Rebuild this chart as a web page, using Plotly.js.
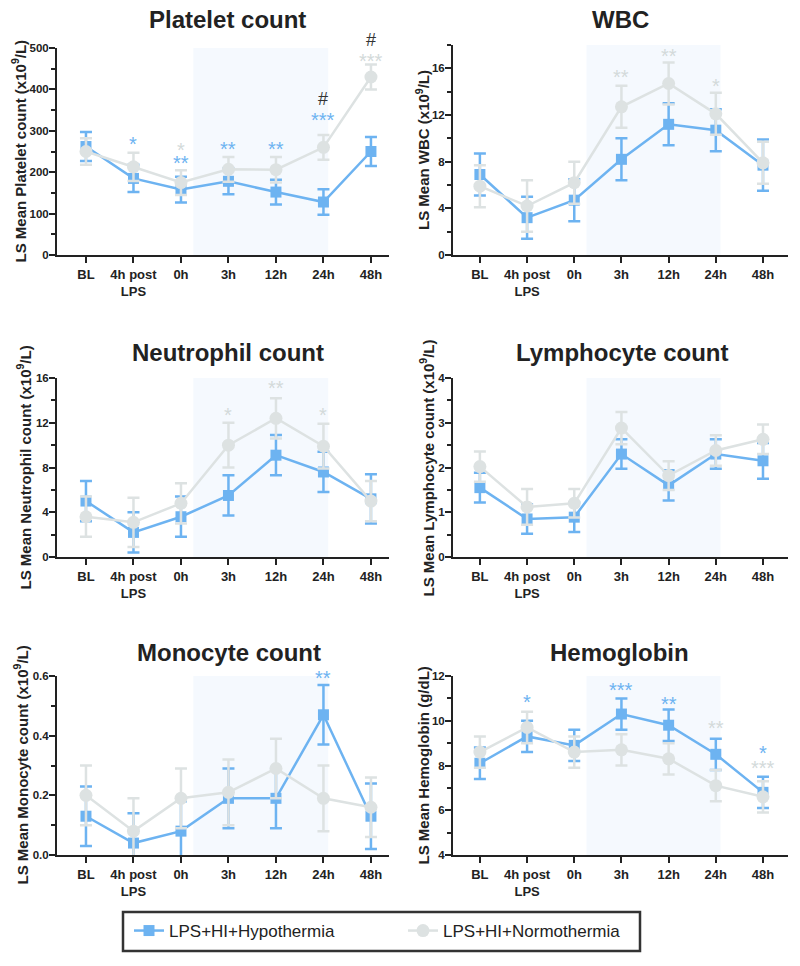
<!DOCTYPE html>
<html>
<head>
<meta charset="utf-8">
<script src="https://cdn.plot.ly/plotly-3.0.1.min.js"></script>
<style>
  html, body { margin: 0; padding: 0; background: #fff; }
  #graph { width: 800px; height: 966px; }
</style>
</head>
<body>
<div id="graph"></div>
<script>
// time points along every x axis
var timepoints = ['BL', '4h post<br>LPS', '0h', '3h', '12h', '24h', '48h'];
var timeIdx = [0, 1, 2, 3, 4, 5, 6];

// platelet count (x10^9/L), LS mean and error
var plateletHypo = [262, 185, 158, 178, 152, 128, 250];
var plateletHypoErr = [35, 33, 31, 31, 30, 31, 35];
var plateletNormo = [250, 213, 175, 207, 206, 260, 430];
var plateletNormoErr = [32, 34, 30, 30, 31, 30, 30];

// WBC (x10^9/L)
var wbcHypo = [6.9, 3.2, 4.7, 8.2, 11.2, 10.7, 7.7];
var wbcHypoErr = [1.8, 1.8, 1.8, 1.8, 1.8, 1.8, 2.2];
var wbcNormo = [5.9, 4.2, 6.2, 12.7, 14.7, 12.1, 7.9];
var wbcNormoErr = [1.8, 2.2, 1.8, 1.8, 1.8, 1.8, 1.8];

// neutrophil count (x10^9/L)
var neutroHypo = [5.0, 2.2, 3.6, 5.5, 9.1, 7.6, 5.2];
var neutroHypoErr = [1.8, 1.8, 1.8, 1.8, 1.8, 1.8, 2.2];
var neutroNormo = [3.6, 3.1, 4.8, 10.0, 12.4, 9.9, 5.0];
var neutroNormoErr = [1.8, 2.2, 1.8, 2.0, 1.8, 2.0, 1.8];

// lymphocyte count (x10^9/L)
var lymphoHypo = [1.55, 0.85, 0.89, 2.3, 1.6, 2.3, 2.15];
var lymphoHypoErr = [0.33, 0.33, 0.33, 0.33, 0.34, 0.33, 0.4];
var lymphoNormo = [2.02, 1.12, 1.2, 2.88, 1.82, 2.38, 2.63];
var lymphoNormoErr = [0.34, 0.4, 0.32, 0.36, 0.32, 0.34, 0.33];

// monocyte count (x10^9/L)
var monoHypo = [0.13, 0.04, 0.08, 0.19, 0.19, 0.47, 0.13];
var monoHypoErr = [0.1, 0.1, 0.1, 0.1, 0.1, 0.1, 0.11];
var monoNormo = [0.2, 0.08, 0.19, 0.21, 0.29, 0.19, 0.16];
var monoNormoErr = [0.1, 0.11, 0.1, 0.11, 0.1, 0.11, 0.1];

// hemoglobin (g/dL)
var hbHypo = [8.1, 9.3, 8.9, 10.3, 9.8, 8.5, 6.8];
var hbHypoErr = [0.7, 0.7, 0.7, 0.7, 0.7, 0.7, 0.7];
var hbNormo = [8.6, 9.7, 8.6, 8.7, 8.3, 7.1, 6.6];
var hbNormoErr = [0.7, 0.7, 0.7, 0.7, 0.7, 0.7, 0.7];

// significance labels: [time index, label, group, height in axis units]
var plateletSig = [[1, '*', 'hypo', 282], [2, '*', 'normo', 268], [2, '**', 'hypo', 237],
  [3, '**', 'hypo', 271], [4, '**', 'hypo', 271], [5, '***', 'hypo', 340], [5, '#', 'diff', 380],
  [6, '***', 'normo', 483], [6, '#', 'diff', 521]];
var wbcSig = [[3, '**', 'normo', 15.8], [4, '**', 'normo', 17.55], [5, '*', 'normo', 15.0]];
var neutroSig = [[3, '*', 'normo', 13.26], [4, '**', 'normo', 15.64], [5, '*', 'normo', 13.26]];
var lymphoSig = [];
var monoSig = [[5, '**', 'hypo', 0.614]];
var hbSig = [[1, '*', 'hypo', 11.1], [3, '***', 'hypo', 11.63], [4, '**', 'hypo', 11.0],
  [5, '**', 'normo', 9.96], [6, '*', 'hypo', 8.84], [6, '***', 'normo', 8.17]];

var BLUE = '#6db3f1';
var GREY = '#dde2e2';
var INK = '#222222';
var SHADE = '#f5f9fe';
var FONT = 'Liberation Sans, Arial, Helvetica, sans-serif';
var W = 800, H = 966;

// box = plot area in px [left, right, top, bottom]; ytx = y title centre, tty/ttx = panel title centre
var panels = [
  { title: 'Platelet count', ytitle: 'LS Mean Platelet count (x10<sup>9</sup>/L)',
    hypo: plateletHypo, hypoErr: plateletHypoErr, normo: plateletNormo, normoErr: plateletNormoErr,
    range: [0, 500], dtick: 100, minor: 50, sig: plateletSig,
    box: [57, 389, 48, 255], ytx: 19, tty: 20, ttx: 228 },
  { title: 'WBC', ytitle: 'LS Mean WBC (x10<sup>9</sup>/L)',
    hypo: wbcHypo, hypoErr: wbcHypoErr, normo: wbcNormo, normoErr: wbcNormoErr,
    range: [0, 18], dtick: 4, minor: 2, sig: wbcSig,
    box: [453, 788, 45, 255], ytx: 423, tty: 20, ttx: 620 },
  { title: 'Neutrophil count', ytitle: 'LS Mean Neutrophil count (x10<sup>9</sup>/L)',
    hypo: neutroHypo, hypoErr: neutroHypoErr, normo: neutroNormo, normoErr: neutroNormoErr,
    range: [0, 16], dtick: 4, minor: 2, sig: neutroSig,
    box: [57, 389, 378, 557], ytx: 24, tty: 352, ttx: 228 },
  { title: 'Lymphocyte count', ytitle: 'LS Mean Lymphocyte count (x10<sup>9</sup>/L)',
    hypo: lymphoHypo, hypoErr: lymphoHypoErr, normo: lymphoNormo, normoErr: lymphoNormoErr,
    range: [0, 4], dtick: 1, minor: 0.5, sig: lymphoSig,
    box: [453, 788, 378, 557], ytx: 427, tty: 352, ttx: 622 },
  { title: 'Monocyte count', ytitle: 'LS Mean Monocyte count (x10<sup>9</sup>/L)',
    hypo: monoHypo, hypoErr: monoHypoErr, normo: monoNormo, normoErr: monoNormoErr,
    range: [0, 0.6], dtick: 0.2, minor: 0.1, fmt: '.1f', sig: monoSig,
    box: [57, 389, 676, 855], ytx: 21, tty: 652, ttx: 229 },
  { title: 'Hemoglobin', ytitle: 'LS Mean Hemoglobin (g/dL)',
    hypo: hbHypo, hypoErr: hbHypoErr, normo: hbNormo, normoErr: hbNormoErr,
    range: [4, 12], dtick: 2, minor: 1, sig: hbSig,
    box: [453, 788, 676, 855], ytx: 423, tty: 652, ttx: 619 }
];

var data = [], annotations = [], shapes = [];
var legendBase = {
  orientation: 'h', y: 1 - 913 / H, xanchor: 'left', yanchor: 'top',
  bgcolor: 'rgba(0,0,0,0)', borderwidth: 0,
  font: { family: FONT, size: 17, color: INK }, itemclick: false
};
var layout = {
  width: W, height: H,
  margin: { l: 0, r: 0, t: 0, b: 0 },
  paper_bgcolor: '#ffffff',
  plot_bgcolor: 'rgba(0,0,0,0)',
  font: { family: FONT, color: INK },
  showlegend: true,
  legend: Object.assign({ x: 129 / W }, legendBase),
  legend2: Object.assign({ x: 403 / W }, legendBase),
  hovermode: false
};

// frame around the legend
shapes.push({
  type: 'rect', xref: 'paper', yref: 'paper',
  x0: 123 / W, x1: 640 / W, y0: 1 - 951 / H, y1: 1 - 912 / H,
  line: { color: '#333333', width: 2.5 }, fillcolor: 'rgba(0,0,0,0)'
});

panels.forEach(function (p, i) {
  var n = i === 0 ? '' : String(i + 1);
  var xa = 'x' + n, ya = 'y' + n;
  var b = p.box;
  var isRight = b[0] > W / 2;
  var yDom = [1 - b[3] / H, 1 - b[2] / H];

  layout['xaxis' + n] = {
    domain: [b[0] / W, b[1] / W], anchor: ya,
    range: isRight ? [-0.57, 6.53] : [-0.61, 6.38],
    tickmode: 'array', tickvals: timeIdx, ticktext: timepoints,
    showline: true, linecolor: INK, linewidth: 2,
    ticks: 'outside', ticklen: 6, tickwidth: 2, tickcolor: INK,
    showgrid: false, zeroline: false, fixedrange: true,
    tickfont: { family: FONT, size: 13, color: INK, weight: 'bold' }
  };
  layout['yaxis' + n] = {
    domain: yDom, anchor: xa, range: p.range,
    tick0: p.range[0], dtick: p.dtick, tickformat: p.fmt || '',
    showline: true, linecolor: INK, linewidth: 2,
    ticks: 'outside', ticklen: 6, tickwidth: 2, tickcolor: INK,
    ticklabelstandoff: -2,
    minor: { dtick: p.minor, tick0: p.range[0], ticks: 'outside', ticklen: 4, tickwidth: 2, tickcolor: INK, showgrid: false },
    showgrid: false, zeroline: false, fixedrange: true,
    tickfont: { family: FONT, size: 11.5, color: INK, weight: 'bold' }
  };

  // shaded hypothermia window
  shapes.push({
    type: 'rect', xref: xa, yref: ya + ' domain', x0: 2.26, x1: 5.1, y0: 0, y1: 1,
    fillcolor: SHADE, line: { width: 0 }, layer: 'below'
  });

  data.push({
    x: timeIdx, y: p.hypo, xaxis: xa, yaxis: ya, type: 'scatter', mode: 'lines+markers',
    name: 'LPS+HI+Hypothermia', legend: 'legend', showlegend: i === 0,
    line: { color: BLUE, width: 2.5 },
    marker: { symbol: 'square', size: 11, color: BLUE },
    error_y: { type: 'data', array: p.hypoErr, visible: true, color: BLUE, thickness: 2.5, width: 6 }
  });
  data.push({
    x: timeIdx, y: p.normo, xaxis: xa, yaxis: ya, type: 'scatter', mode: 'lines+markers',
    name: 'LPS+HI+Normothermia', legend: 'legend2', showlegend: i === 0,
    line: { color: GREY, width: 2.5 },
    marker: { symbol: 'circle', size: 13, color: GREY },
    error_y: { type: 'data', array: p.normoErr, visible: true, color: GREY, thickness: 2.5, width: 6 }
  });

  // panel title
  annotations.push({
    xref: 'paper', yref: 'paper', x: p.ttx / W, y: 1 - p.tty / H,
    xanchor: 'center', yanchor: 'middle', showarrow: false,
    text: p.title, font: { family: FONT, size: 24, color: INK, weight: 'bold' }
  });
  // y axis title
  annotations.push({
    xref: 'paper', yref: 'paper', x: p.ytx / W, y: (yDom[0] + yDom[1]) / 2,
    xanchor: 'center', yanchor: 'middle', showarrow: false, textangle: -90,
    text: p.ytitle, font: { family: FONT, size: 15, color: INK, weight: 'bold' }
  });

  // significance marks
  var pxPerUnit = (b[3] - b[2]) / (p.range[1] - p.range[0]);
  p.sig.forEach(function (s) {
    var yv = Math.min(s[3], p.range[1]);
    var over = (s[3] - yv) * pxPerUnit;
    var isHash = s[1] === '#';
    annotations.push({
      xref: xa, yref: ya, x: s[0], y: yv, showarrow: false,
      xanchor: 'center', yanchor: 'middle',
      yshift: over + (isHash ? -1 : -6),
      text: s[1],
      font: { family: FONT, size: isHash ? 18 : 20, color: s[2] === 'hypo' ? BLUE : (s[2] === 'normo' ? '#d3dada' : '#333333') }
    });
  });
});

layout.annotations = annotations;
layout.shapes = shapes;

Plotly.newPlot('graph', data, layout, { displayModeBar: false, staticPlot: true });
</script>
</body>
</html>
